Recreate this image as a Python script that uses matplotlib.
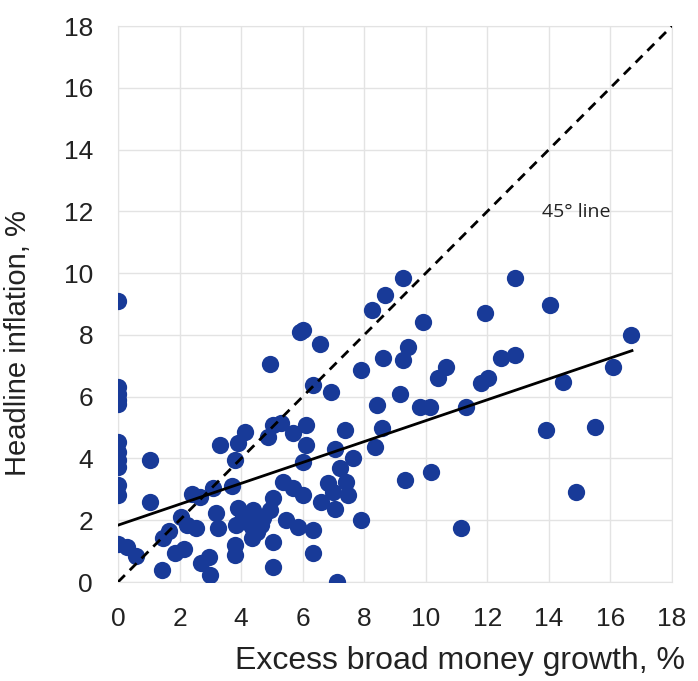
import matplotlib.pyplot as plt
import numpy as np

# excess broad money growth (%) vs headline inflation (%)
money_growth = [
    0, 0, 0, 0, 0, 0, 0, 0, 0, 0, 0, 0, 0.3, 0.6,
    1.04, 1.04, 1.45, 1.65, 1.42, 2.05, 2.25, 2.55, 1.85, 2.15,
    2.39, 2.66, 2.7, 2.95, 3.0, 3.1, 3.69, 3.31, 3.8, 3.9, 4.12,
    3.2, 3.25, 3.8, 3.8,
    3.9, 4.07, 4.39, 4.93, 5.04, 3.85, 4.34, 4.66, 4.34, 5.04, 4.72, 4.5, 4.18,
    5.04, 4.93, 5.9, 4.88, 5.04, 5.31, 5.69,
    5.37, 5.69, 6.02, 5.47, 5.85, 6.34, 6.34, 6.6,
    6.34, 6.93, 6.02, 6.56,
    6.12, 6.12, 6.02, 7.37, 8.57, 8.34, 7.04, 7.64, 7.21, 6.82, 7.42, 6.99, 7.48,
    7.04, 7.91, 7.1,
    7.91, 8.24, 8.67, 9.26, 9.91, 9.43, 9.26, 8.61, 9.16, 8.4, 9.8, 10.13,
    10.67, 10.4, 11.32, 10.18, 9.32, 11.15,
    12.89, 11.92, 14.03, 16.68, 12.45, 12.89, 11.8, 12.02, 16.08, 14.46,
    13.92, 15.49, 14.89,
]
inflation = [
    9.1, 6.3, 6.1, 5.9, 5.75, 4.54, 4.22, 3.95, 3.73, 3.14, 2.82, 1.22, 1.12, 0.85,
    3.95, 2.6, 1.42, 1.65, 0.39, 2.1, 1.85, 1.74, 0.93, 1.06,
    2.85, 2.76, 0.62, 0.8, 0.23, 3.05, 3.1, 4.43, 3.95, 4.49, 4.86,
    2.25, 1.74, 1.2, 0.87,
    2.38, 2.11, 2.33, 2.33, 2.71, 1.84, 1.79, 1.84, 1.41, 1.3, 2.06, 1.63, 1.95,
    0.5, 7.05, 8.1, 4.7, 5.08, 5.14, 4.81,
    3.25, 3.03, 2.82, 2.0, 1.79, 1.68, 0.95, 2.6,
    6.38, 6.16, 8.16, 7.72,
    5.08, 4.43, 3.89, 4.92, 4.97, 4.38, 4.3, 4.03, 3.68, 3.19, 3.25, 2.9, 2.82,
    2.35, 2.0, 0.0,
    6.86, 8.8, 9.29, 9.83, 8.42, 7.61, 7.18, 7.24, 6.1, 5.73, 5.67, 5.67,
    6.97, 6.59, 5.65, 3.57, 3.3, 1.74,
    9.83, 8.7, 8.96, 7.99, 7.24, 7.35, 6.43, 6.59, 6.97, 6.48,
    4.92, 5.03, 2.92,
]

fit_x = [0, 16.7]
fit_y = [1.84, 7.49]
diag = [0, 18]
ticks = np.arange(0, 19, 2)

plt.rcParams["font.family"] = ["Liberation Sans", "DejaVu Sans"]

fig = plt.figure(figsize=(6.98, 6.81), dpi=100)
ax = fig.add_axes([118 / 698, 1 - 582 / 681, 554 / 698, 556 / 681])

ax.grid(True, color="#e3e3e3", linewidth=1.0)
ax.set_axisbelow(True)
for sp in ax.spines.values():
    sp.set_color("#e3e3e3")

ax.scatter(money_growth, inflation, s=155, color="#183a98", zorder=3, linewidths=0)
ax.plot(diag, diag, color="black", linestyle=(0, (3.5, 2.5)), linewidth=2.0, zorder=4)
ax.plot(fit_x, fit_y, color="black", linewidth=2.0, zorder=4)
ax.text(14.9, 11.97, "45° line", fontsize=14, ha="center", va="center",
        family=["Open Sans", "DejaVu Sans"], color="#222222")

ax.set_xlim(0, 18)
ax.set_ylim(0, 18)
ax.set_xticks(ticks)
ax.set_yticks(ticks)
ax.tick_params(length=0, labelsize=19, pad=18, colors="#222222")

ax.set_xlabel("Excess broad money growth, %", fontsize=23, color="#222222")
ax.xaxis.set_label_coords(0.617, -0.116)
ax.set_ylabel("Headline inflation, %", fontsize=21, color="#222222")
ax.yaxis.set_label_coords(-0.155, 0.43)

fig.savefig("out.png", dpi=100, facecolor="white")
